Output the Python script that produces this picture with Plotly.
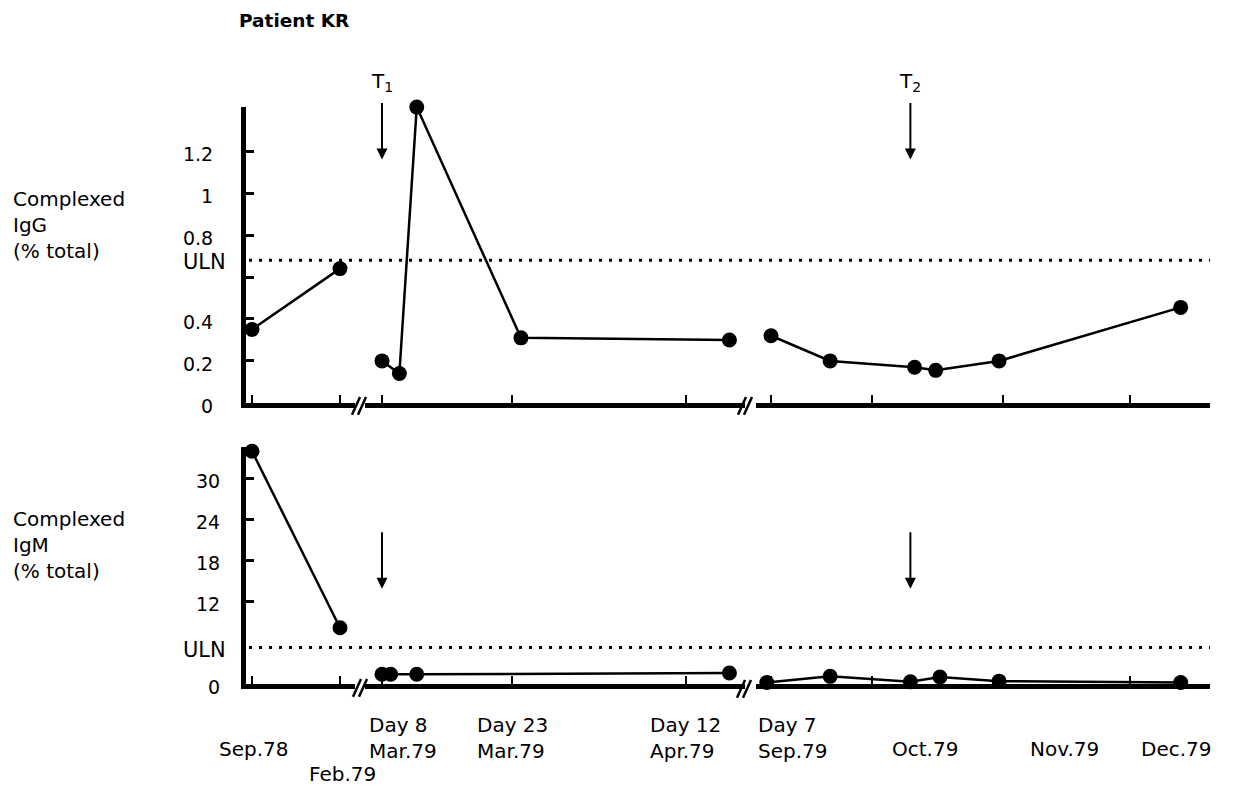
import plotly.graph_objects as go
import pandas as pd

W, H = 1243, 805

# ---------------- data ----------------
igg_seg1_dates = ["1978-09-06", "1979-02-01"]
igg_seg1_vals = [0.35, 0.64]
igg_seg2_dates = ["1979-03-08", "1979-03-10", "1979-03-12", "1979-03-24", "1979-04-17"]
igg_seg2_vals = [0.20, 0.14, 1.41, 0.31, 0.30]
igg_seg3_dates = ["1979-09-07", "1979-09-21", "1979-10-11", "1979-10-16", "1979-10-31", "1979-12-13"]
igg_seg3_vals = [0.32, 0.20, 0.17, 0.155, 0.20, 0.455]

igm_seg1_dates = ["1978-09-06", "1979-02-01"]
igm_seg1_vals = [34.0, 8.2]
igm_seg2_dates = ["1979-03-08", "1979-03-09", "1979-03-12", "1979-04-17"]
igm_seg2_vals = [1.4, 1.4, 1.4, 1.6]
igm_seg3_dates = ["1979-09-06", "1979-09-21", "1979-10-10", "1979-10-17", "1979-10-31", "1979-12-13"]
igm_seg3_vals = [0.2, 1.1, 0.3, 1.0, 0.4, 0.2]

uln_igg = 0.68
uln_igm = 5.3

treatment_dates = ["1979-03-08", "1979-10-10"]
treatment_top_axes = ["x2", "x3"]
treatment_bot_axes = ["x5", "x6"]
treatment_labels = ["T<sub>1</sub>", "T<sub>2</sub>"]
arrow_tip_igg = 1.16
arrow_tip_igm = 13.9

igg_ticks = [0, 0.2, 0.4, 0.8, 1.0, 1.2]
igg_ticktext = ["0", "0.2", "0.4", "0.8", "1", "1.2"]
igg_unlabelled_ticks = [0.6]
igm_ticks = [0, 12, 18, 24, 30]
igm_ticktext = ["0", "12", "18", "24", "30"]

seg1_ticks = ["1978-09-06", "1979-02-01"]
seg2_ticks = ["1979-03-08", "1979-03-23", "1979-04-12"]
seg3_ticks = ["1979-09-07", "1979-10-01", "1979-11-01", "1979-12-01"]

x_label_axes = ["x4", "x4", "x5", "x5", "x5", "x6", "x6", "x6", "x6"]
x_label_dates = ["1978-09-06", "1979-02-01", "1979-03-08", "1979-03-23", "1979-04-12",
                 "1979-09-07", "1979-10-01", "1979-11-01", "1979-12-01"]
x_label_texts = ["Sep.78", "Feb.79", "Day 8<br>Mar.79", "Day 23<br>Mar.79", "Day 12<br>Apr.79",
                 "Day 7<br>Sep.79", "Oct.79", "Nov.79", "Dec.79"]

# ---------------- layout helpers ----------------
FONT = "DejaVu Sans"
FS = 20
TFS = 19


def px_x(p):
    return p / W


def px_y(p):
    return 1 - p / H


def seg_range(anchor_date, anchor_px, px_per_day, left_px, right_px):
    a = pd.Timestamp(anchor_date)
    lo = a - pd.Timedelta(days=(anchor_px - left_px) / px_per_day)
    hi = a + pd.Timedelta(days=(right_px - anchor_px) / px_per_day)
    return [lo.strftime("%Y-%m-%d %H:%M:%S"), hi.strftime("%Y-%m-%d %H:%M:%S")]


segs = [
    ("1978-09-06", 252, 88 / 148, 246, 355),
    ("1979-03-08", 382, 304 / 35, 365, 745),
    ("1979-09-07", 771, 359 / 85, 756, 1210),
]
seg_ticks = [seg1_ticks, seg2_ticks, seg3_ticks]

top_dom = [px_y(410), px_y(109)]
bot_dom = [px_y(696), px_y(455)]

fig = go.Figure()

line_style = dict(color="black", width=2.5)
marker_style = dict(color="black", size=15)


def add_series(dates, vals, xa, ya):
    fig.add_trace(go.Scatter(x=dates, y=vals, xaxis=xa, yaxis=ya, mode="lines+markers",
                             line=line_style, marker=marker_style, cliponaxis=False,
                             hoverinfo="skip", showlegend=False))


add_series(igg_seg1_dates, igg_seg1_vals, "x", "y")
add_series(igg_seg2_dates, igg_seg2_vals, "x2", "y")
add_series(igg_seg3_dates, igg_seg3_vals, "x3", "y")
add_series(igm_seg1_dates, igm_seg1_vals, "x4", "y2")
add_series(igm_seg2_dates, igm_seg2_vals, "x5", "y2")
add_series(igm_seg3_dates, igm_seg3_vals, "x6", "y2")

layout = dict(
    width=W, height=H,
    margin=dict(l=0, r=0, t=0, b=0),
    paper_bgcolor="white", plot_bgcolor="white",
    showlegend=False, hovermode=False,
    font=dict(family=FONT, size=FS, color="black"),
)

xaxis_common = dict(type="date", showgrid=False, zeroline=False, showline=True,
                    linewidth=5, linecolor="black", ticks="inside", ticklen=8,
                    tickwidth=2, tickcolor="black", showticklabels=False, fixedrange=True)

for i, (ad, apx, ppd, lpx, rpx) in enumerate(segs):
    rng = seg_range(ad, apx, ppd, lpx, rpx)
    dom = [px_x(lpx), px_x(rpx)]
    top_name = "xaxis" if i == 0 else f"xaxis{i + 1}"
    bot_name = f"xaxis{i + 4}"
    layout[top_name] = dict(xaxis_common, domain=dom, range=rng, anchor="y",
                            tickvals=seg_ticks[i])
    layout[bot_name] = dict(xaxis_common, domain=dom, range=rng, anchor="y2",
                            tickvals=seg_ticks[i])

yaxis_common = dict(showgrid=False, zeroline=False, showline=True, linewidth=5,
                    linecolor="black", ticks="inside", ticklen=8, tickwidth=3,
                    tickcolor="black", fixedrange=True, ticklabelshift=3,
                    tickfont=dict(family=FONT, size=TFS, color="black"))

layout["yaxis"] = dict(yaxis_common, domain=top_dom, range=[0, 1.41], anchor="x",
                       tickvals=igg_ticks, ticktext=igg_ticktext, ticklabelstandoff=24,
                       minor=dict(tickmode="array", tickvals=igg_unlabelled_ticks,
                                  ticks="inside", ticklen=8, tickwidth=3,
                                  tickcolor="black", showgrid=False))
layout["yaxis2"] = dict(yaxis_common, domain=bot_dom, range=[0, 34.6], anchor="x4",
                        tickvals=igm_ticks, ticktext=igm_ticktext, ticklabelstandoff=17)

fig.update_layout(**layout)

shapes = []
for uln, yref in [(uln_igg, "y"), (uln_igm, "y2")]:
    shapes.append(dict(type="line", xref="paper", yref=yref, x0=px_x(249), x1=px_x(1210),
                       y0=uln, y1=uln, line=dict(color="black", width=3, dash="3px,7px")))

# axis break marks "//"
for (bx, by) in [(356, 413), (742, 413), (357, 700), (741, 701)]:
    for off in (0, 6):
        shapes.append(dict(type="line", xref="paper", yref="paper",
                           x0=px_x(bx + off - 4), y0=px_y(by + 9),
                           x1=px_x(bx + off + 4), y1=px_y(by - 9),
                           line=dict(color="black", width=2.5)))
fig.update_layout(shapes=shapes)

ann = []
ann.append(dict(text="<b>Patient KR</b>", xref="paper", yref="paper", x=px_x(237), y=px_y(21),
                xanchor="left", yanchor="middle", showarrow=False,
                font=dict(family=FONT, size=18.5, color="black")))
ann.append(dict(text="Complexed<br>IgG<br>(% total)", xref="paper", yref="paper",
                x=px_x(11), y=px_y(229), xanchor="left", yanchor="middle", align="left",
                showarrow=False, font=dict(family=FONT, size=FS, color="black")))
ann.append(dict(text="Complexed<br>IgM<br>(% total)", xref="paper", yref="paper",
                x=px_x(11), y=px_y(555), xanchor="left", yanchor="middle", align="left",
                showarrow=False, font=dict(family=FONT, size=FS, color="black")))
for uln, yref in [(uln_igg, "y"), (uln_igm, "y2")]:
    ann.append(dict(text="ULN", xref="paper", yref=yref, x=px_x(181), y=uln, yshift=-2,
                    xanchor="left", yanchor="middle", showarrow=False,
                    font=dict(family=FONT, size=21, color="black")))

x_shifts = [-35, -33, -15, -37, -38, -15, 18, 25, 9]
x_label_y = [762, 788, 751, 751, 751, 751, 762, 762, 762]
for axn, d, t, sh, yy in zip(x_label_axes, x_label_dates, x_label_texts, x_shifts, x_label_y):
    ann.append(dict(text=t, xref=axn, yref="paper", x=d, y=px_y(yy), xshift=sh,
                    xanchor="left", yanchor="middle", align="left", showarrow=False,
                    font=dict(family=FONT, size=FS, color="black")))

# treatment arrows (annotation arrows) and labels
for d, xt, xb, lab in zip(treatment_dates, treatment_top_axes, treatment_bot_axes,
                          treatment_labels):
    ann.append(dict(text="", x=d, y=arrow_tip_igg, xref=xt, yref="y", showarrow=True,
                    ax=0, ay=-58, arrowhead=2, arrowsize=1.1, arrowwidth=2,
                    arrowcolor="black"))
    ann.append(dict(text="", x=d, y=arrow_tip_igm, xref=xb, yref="y2", showarrow=True,
                    ax=0, ay=-58, arrowhead=2, arrowsize=1.1, arrowwidth=2,
                    arrowcolor="black"))
    ann.append(dict(text=lab, x=d, y=px_y(83), xref=xt, yref="paper", showarrow=False,
                    xanchor="center", yanchor="middle",
                    font=dict(family=FONT, size=20, color="black")))

fig.update_layout(annotations=ann)

fig.write_html("out.html", config={"displayModeBar": False})
